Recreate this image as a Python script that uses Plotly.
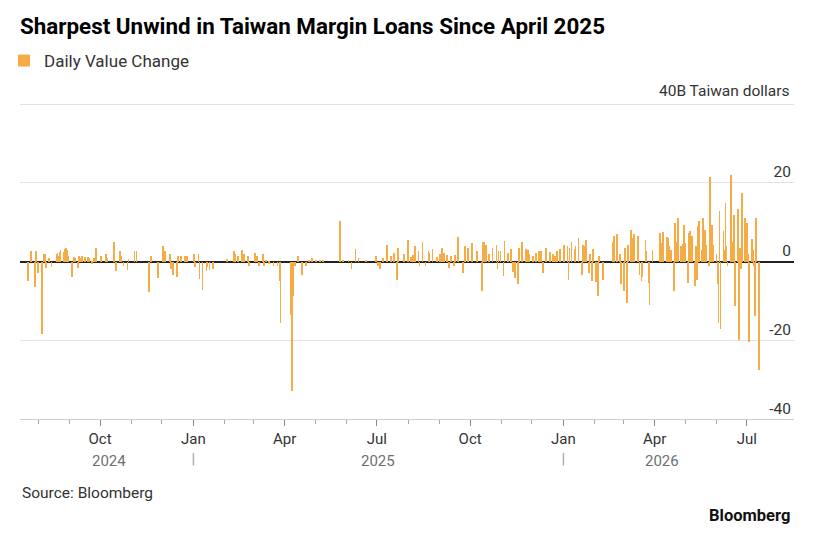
import plotly.graph_objects as go

# ---- data (billion Taiwan dollars, daily change in margin loans) ----
dates_2024 = [
    "2024-07-22", "2024-07-25", "2024-07-29", "2024-07-30", "2024-08-01", "2024-08-05",
    "2024-08-07", "2024-08-08", "2024-08-09", "2024-08-12", "2024-08-14", "2024-08-19",
    "2024-08-20", "2024-08-21", "2024-08-22", "2024-08-23", "2024-08-26", "2024-08-27",
    "2024-08-28", "2024-08-29", "2024-08-30", "2024-09-03", "2024-09-05", "2024-09-06",
    "2024-09-09", "2024-09-10", "2024-09-12", "2024-09-13", "2024-09-16", "2024-09-19",
    "2024-09-20", "2024-09-23", "2024-09-25", "2024-09-27", "2024-10-02", "2024-10-07",
    "2024-10-08", "2024-10-15", "2024-10-17", "2024-10-21", "2024-10-22", "2024-10-24",
    "2024-10-28", "2024-10-29", "2024-11-04", "2024-11-06", "2024-11-18", "2024-11-20",
    "2024-11-27", "2024-12-02", "2024-12-03", "2024-12-04", "2024-12-09", "2024-12-10",
    "2024-12-12", "2024-12-16", "2024-12-17", "2024-12-20", "2024-12-24", "2024-12-26",
]
vals_2024 = [
    -5.0, 2.8, -6.5, 2.6, -3.0, -18.5,
    2.0, 2.0, -1.6, 1.0, -1.3, 2.0,
    2.3, 1.5, 2.5, 3.0, 2.5, 3.2,
    3.5, 3.0, 1.4, -4.0, 1.2, 0.8,
    -1.6, 1.4, 1.0, 1.4, 1.2, 1.2,
    0.8, -0.5, 0.8, 3.5, 1.4, 1.8,
    0.8, 5.0, -2.5, 2.6, 1.4, -1.0,
    -2.2, 0.6, 2.6, 2.6, -7.8, 1.4,
    -4.2, 3.9, 1.0, 2.6, 2.0, -2.0,
    -3.3, -4.0, 1.4, 1.4, 1.4, 1.4,
]

dates_2025 = [
    "2025-01-02", "2025-01-03", "2025-01-06", "2025-01-07", "2025-01-10", "2025-01-14",
    "2025-01-15", "2025-01-17", "2025-01-20", "2025-02-03", "2025-02-10", "2025-02-11",
    "2025-02-14", "2025-02-18", "2025-02-20", "2025-02-24", "2025-02-25", "2025-03-03",
    "2025-03-05", "2025-03-07", "2025-03-11", "2025-03-12", "2025-03-14", "2025-03-17",
    "2025-03-21", "2025-03-25", "2025-03-27", "2025-03-28", "2025-04-07", "2025-04-08",
    "2025-04-09", "2025-04-11", "2025-04-14", "2025-04-18", "2025-04-22", "2025-04-25",
    "2025-04-28", "2025-05-02", "2025-05-06", "2025-05-09", "2025-05-26", "2025-05-29",
    "2025-06-03", "2025-06-06", "2025-06-10", "2025-06-13", "2025-06-20", "2025-06-30",
    "2025-07-02", "2025-07-04", "2025-07-07", "2025-07-11", "2025-07-15", "2025-07-18",
    "2025-07-21", "2025-07-22", "2025-07-28", "2025-08-01", "2025-08-04", "2025-08-06",
    "2025-08-08", "2025-08-11", "2025-08-12", "2025-08-15", "2025-08-18", "2025-08-21",
    "2025-08-22", "2025-08-25", "2025-08-29", "2025-09-01", "2025-09-03", "2025-09-05",
    "2025-09-08", "2025-09-10", "2025-09-12", "2025-09-15", "2025-09-16", "2025-09-19",
    "2025-09-24", "2025-09-26", "2025-09-29", "2025-10-03", "2025-10-08", "2025-10-13",
    "2025-10-14", "2025-10-15", "2025-10-17", "2025-10-20", "2025-10-23", "2025-10-27",
    "2025-10-28", "2025-10-29", "2025-10-31", "2025-11-03", "2025-11-04", "2025-11-07",
    "2025-11-10", "2025-11-12", "2025-11-14", "2025-11-17", "2025-11-18", "2025-11-21",
    "2025-11-25", "2025-11-27", "2025-11-28", "2025-12-02", "2025-12-05", "2025-12-08",
    "2025-12-10", "2025-12-12", "2025-12-15", "2025-12-19", "2025-12-22", "2025-12-24",
    "2025-12-26", "2025-12-29",
]
vals_2025 = [
    1.8, -1.3, 1.8, -4.4, -7.2, -2.5,
    -1.5, -2.2, -2.0, 0.6, 2.6, 2.0,
    1.5, 2.9, 1.8, 1.4, -1.0, 2.2,
    1.4, -1.0, 1.8, -1.0, 0.5, -0.5,
    -1.0, -1.2, -5.0, -15.6, -13.5, -33.0,
    -8.8, -1.0, 1.4, -3.3, -1.0, 0.5,
    0.8, 0.5, 0.5, 0.5, 10.3, 0.5,
    0.5, -1.9, 3.2, 1.0, 0.5, 1.4,
    -1.2, -2.0, 1.0, 4.2, 1.4, 2.2,
    -4.7, 3.5, 1.8, 5.6, 1.2, 1.6,
    4.0, 2.8, -1.2, 5.0, -1.2, 2.6,
    2.2, 3.2, 1.1, 1.8, 3.5, 2.2,
    1.6, -1.6, 1.4, -1.2, 1.6, 6.2,
    -2.9, 3.9, 3.5, 4.7, 2.8, -7.5,
    5.0, 5.0, 4.2, 1.8, 3.5, 4.2,
    -2.0, 2.8, 2.6, -3.7, 5.2, 2.2,
    3.3, -2.6, -4.2, -5.8, 3.5, 5.0,
    3.3, 3.0, 2.0, 1.4, 2.2, 2.8,
    2.8, -2.9, 3.5, 2.5, 1.8, 1.4,
    2.8, 3.3,
]

dates_2026 = [
    "2026-01-02", "2026-01-05", "2026-01-06", "2026-01-07", "2026-01-09", "2026-01-12",
    "2026-01-13", "2026-01-16", "2026-01-19", "2026-01-20", "2026-01-22", "2026-01-23",
    "2026-01-26", "2026-01-27", "2026-01-29", "2026-01-30", "2026-02-02", "2026-02-04",
    "2026-02-05", "2026-02-09", "2026-02-19", "2026-02-20", "2026-02-23", "2026-02-26",
    "2026-02-27", "2026-03-02", "2026-03-03", "2026-03-05", "2026-03-06", "2026-03-09",
    "2026-03-10", "2026-03-12", "2026-03-16", "2026-03-17", "2026-03-19", "2026-03-20",
    "2026-03-23", "2026-03-24", "2026-03-26", "2026-03-27", "2026-03-30", "2026-04-06",
    "2026-04-07", "2026-04-09", "2026-04-13", "2026-04-14", "2026-04-15", "2026-04-16",
    "2026-04-17", "2026-04-20", "2026-04-21", "2026-04-22", "2026-04-23", "2026-04-24",
    "2026-04-27", "2026-04-28", "2026-04-29", "2026-04-30", "2026-05-01", "2026-05-04",
    "2026-05-05", "2026-05-06", "2026-05-07", "2026-05-08", "2026-05-11", "2026-05-12",
    "2026-05-13", "2026-05-14", "2026-05-15", "2026-05-18", "2026-05-19", "2026-05-20",
    "2026-05-21", "2026-05-22", "2026-05-25", "2026-05-26", "2026-05-27", "2026-05-28",
    "2026-05-29", "2026-06-01", "2026-06-02", "2026-06-03", "2026-06-04", "2026-06-05",
    "2026-06-08", "2026-06-09", "2026-06-10", "2026-06-11", "2026-06-12", "2026-06-15",
    "2026-06-16", "2026-06-17", "2026-06-18", "2026-06-19", "2026-06-22", "2026-06-23",
    "2026-06-24", "2026-06-25", "2026-06-26", "2026-06-29", "2026-06-30", "2026-07-01",
    "2026-07-02", "2026-07-03", "2026-07-06", "2026-07-07", "2026-07-08", "2026-07-09",
    "2026-07-10", "2026-07-13",
]
vals_2026 = [
    4.3, 3.9, -4.6, 3.5, 4.9, 3.2,
    4.0, 6.0, -3.3, 4.3, 4.0, 5.6,
    -2.9, 2.0, -5.0, 3.2, -5.3, -8.8,
    1.4, -4.6, 4.9, 6.6, 6.9, 2.0,
    -5.8, -7.5, 3.5, -10.5, 4.3, 8.0,
    6.0, 6.9, 6.5, -3.3, -5.0, -4.0,
    5.4, 2.6, -5.4, -11.0, 3.0, 7.3,
    4.7, 7.5, 6.3, 6.0, 4.0, 2.0,
    3.0, -7.5, 9.8, 3.0, 5.0, 11.0,
    3.9, 2.5, 4.5, 9.4, 4.7, -5.4,
    7.3, 7.7, 3.0, 6.4, -6.3, 3.9,
    -4.6, 9.0, 10.3, 3.0, 11.0, 5.0,
    8.1, 4.3, -1.2, 21.5, 3.0, 9.4,
    4.3, 2.0, -5.8, -15.6, 12.8, -17.1,
    7.7, 3.0, 14.9, 4.0, -1.0, 21.9,
    3.0, 5.0, 11.9, -11.2, 13.4, -19.8,
    3.5, -2.0, 17.5, 11.1, 3.0, 9.8,
    2.0, -20.5, 5.8, 3.0, -1.2, -13.9,
    11.1, -27.5,
]

dates = dates_2024 + dates_2025 + dates_2026
values = vals_2024 + vals_2025 + vals_2026

quarter_ticks = ["2024-10-01", "2025-01-01", "2025-04-01", "2025-07-01",
                 "2025-10-01", "2026-01-01", "2026-04-01", "2026-07-01"]
quarter_labels = ["Oct", "Jan", "Apr", "Jul", "Oct", "Jan", "Apr", "Jul"]
year_labels = ["2024", "2025", "2026"]
year_label_dates = ["2024-10-10", "2025-07-02", "2026-04-08"]
y_ticks = [-40, -20, 0, 20, 40]
y_labels = ["-40", "-20", "0", "20", ""]
unit_label = "40B Taiwan dollars"

FONT = "Roboto, Inter, Arial, sans-serif"
BAR = "#F5AC47"

tick_text = [
    (lab + "<br><span style='color:#a0a0a0'>|</span>") if lab == "Jan" else lab
    for lab in quarter_labels
]

fig = go.Figure()
fig.add_trace(go.Bar(
    x=dates, y=values, name="Daily Value Change",
    width=86400000 * 0.8, marker=dict(color=BAR, line=dict(width=0)),
    showlegend=True,
))

W, H = 825, 538
L, R, T, B = 20, 31, 101, 119

def py(p):  # pixel y -> paper y
    return (H - B - p) / (H - T - B)

annotations = []
for lab, d in zip(year_labels, year_label_dates):
    annotations.append(dict(
        x=d, xref="x", y=py(461), yref="paper", text=lab, showarrow=False,
        xanchor="center", yanchor="middle",
        font=dict(family=FONT, size=15, color="#6f6f6f"),
    ))
annotations.append(dict(
    x=1, xref="paper", xshift=-2, y=py(91), yref="paper", text=unit_label,
    showarrow=False, xanchor="right", yanchor="middle",
    font=dict(family=FONT, size=15.5, color="#333333"),
))
annotations.append(dict(
    x=0, xref="paper", y=py(493), yref="paper", text="Source: Bloomberg",
    showarrow=False, xanchor="left", yanchor="middle",
    font=dict(family=FONT, size=15.5, color="#333333"),
))
annotations.append(dict(
    x=1, xref="paper", xshift=-2, y=py(515), yref="paper", text="<b>Bloomberg</b>",
    showarrow=False, xanchor="right", yanchor="middle",
    font=dict(family=FONT, size=16.5, color="#111111"),
))

fig.update_layout(
    width=W, height=H,
    margin=dict(l=L, r=R, t=T, b=B),
    paper_bgcolor="white", plot_bgcolor="white",
    font=dict(family=FONT, color="#333333"),
    title=dict(
        text="<b>Sharpest Unwind in Taiwan Margin Loans Since April 2025</b>",
        x=20 / W, xanchor="left", xref="container",
        y=1 - 26 / H, yanchor="middle", yref="container",
        font=dict(family=FONT, size=22.4, color="#000000"),
    ),
    showlegend=True,
    legend=dict(
        orientation="h", xref="container", yref="container",
        x=4 / W, xanchor="left", y=1 - 61 / H, yanchor="middle",
        font=dict(family=FONT, size=17, color="#333333"),
        bgcolor="rgba(0,0,0,0)", itemclick=False,
    ),
    bargap=0,
    annotations=annotations,
    xaxis=dict(
        type="date",
        range=["2024-07-14", "2026-08-16 12:00"],
        tickmode="array", tickvals=quarter_ticks, ticktext=tick_text,
        ticks="outside", ticklen=6, tickwidth=1, tickcolor="#8a8a8a",
        showline=True, linecolor="#cfcfcf", linewidth=1,
        showgrid=False, zeroline=False,
        tickfont=dict(family=FONT, size=15, color="#333333"),
        minor=dict(ticks="outside", ticklen=4, tickwidth=1, tickcolor="#a8a8a8",
                   dtick="M1", tick0="2024-01-01", showgrid=False),
        fixedrange=True,
    ),
    yaxis=dict(
        range=[-40, 40.8], side="right",
        tickmode="array", tickvals=y_ticks, ticktext=y_labels,
        ticklabelposition="inside top", ticks="",
        showgrid=True, gridcolor="#e2e2e2", gridwidth=1,
        zeroline=True, zerolinecolor="#222222", zerolinewidth=1.5,
        showline=False,
        tickfont=dict(family=FONT, size=15.5, color="#333333"),
        fixedrange=True,
    ),
)

fig.write_html("out.html", config={"displayModeBar": False},
               post_script="document.body.style.margin='0';")
